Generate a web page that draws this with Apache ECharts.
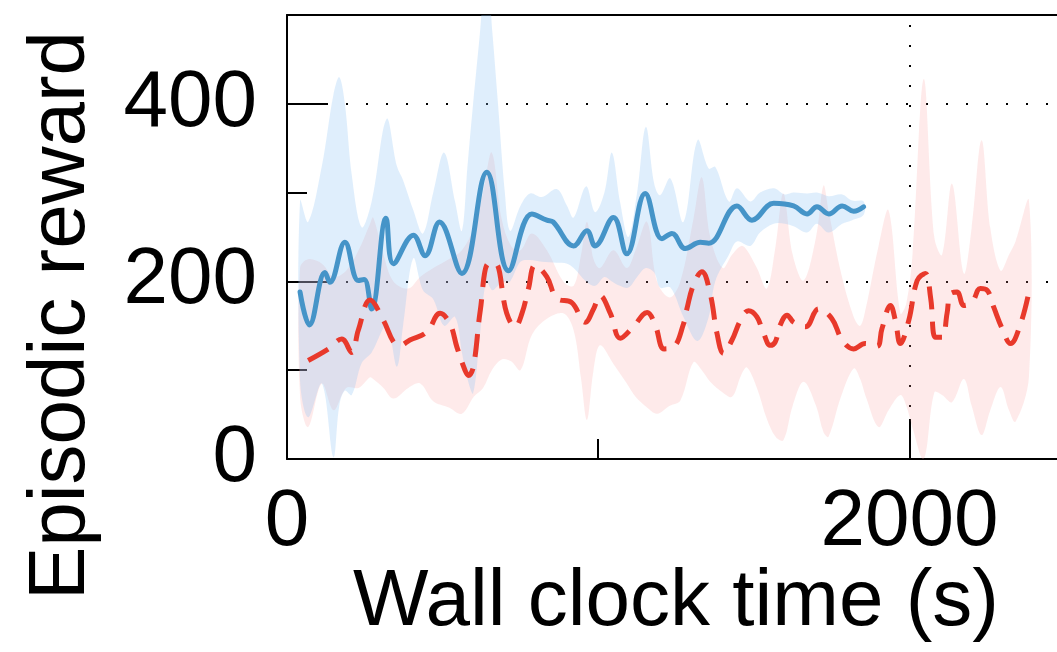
<!DOCTYPE html>
<html>
<head>
<meta charset="utf-8">
<script src="https://cdn.jsdelivr.net/npm/echarts@6/dist/echarts.min.js"></script>
<style>
html, body { margin: 0; padding: 0; background: #fff; }
#chart { width: 1057px; height: 652px; }
</style>
</head>
<body>
<div id="chart"></div>
<script>
// Solid blue run: mean reward over wall clock time
const blueTime   = [42, 72, 122, 138, 186, 229, 248, 272, 318, 342, 406, 444, 490, 562, 642, 712, 787, 835, 855, 921, 964, 990, 1049, 1092, 1151, 1205, 1237, 1280, 1328, 1355, 1446, 1494, 1564, 1628, 1671, 1703, 1741, 1784, 1821, 1853];
const blueReward = [188, 151, 210, 199, 244, 201, 202, 169, 271, 220, 252, 229, 267, 209, 323, 212, 276, 269, 267, 240, 257, 240, 272, 231, 299, 248, 254, 237, 244, 243, 285, 269, 288, 285, 276, 284, 276, 285, 279, 284];

// Spread of the blue run
const blueBandTime = [42, 68, 112, 149, 168, 186, 208, 240, 272, 320, 353, 373, 406, 437, 470, 505, 540, 562, 580, 598, 620, 640, 660, 678, 700, 717, 750, 781, 819, 867, 900, 921, 961, 990, 1020, 1044, 1070, 1097, 1125, 1153, 1180, 1199, 1232, 1274, 1319, 1355, 1376, 1420, 1446, 1489, 1520, 1564, 1600, 1628, 1671, 1703, 1740, 1784, 1816, 1853];
const blueBandLow  = [88, 47, 85, 2, 60, 77, 72, 108, 120, 150, 104, 150, 226, 190, 180, 150, 160, 120, 90, 74, 140, 200, 190, 195, 200, 200, 222, 224, 222, 221, 220, 215, 200, 195, 205, 200, 195, 193, 205, 215, 210, 193, 193, 160, 133, 160, 200, 230, 245, 240, 255, 265, 265, 262, 255, 265, 255, 265, 269, 275];
const blueBandHigh = [291, 267, 330, 410, 430, 400, 320, 261, 290, 383, 330, 314, 280, 254, 300, 345, 290, 257, 330, 400, 480, 560, 480, 400, 300, 257, 285, 299, 295, 304, 285, 272, 307, 278, 300, 345, 290, 250, 300, 374, 310, 297, 316, 267, 359, 327, 329, 290, 305, 290, 300, 305, 298, 300, 299, 300, 296, 298, 291, 290];

// Dashed red run: mean reward over wall clock time
const redTime   = [68, 133, 176, 208, 229, 267, 310, 342, 363, 395, 449, 492, 524, 546, 572, 583, 599, 621, 648, 669, 706, 733, 755, 776, 797, 835, 867, 915, 958, 985, 1006, 1039, 1071, 1113, 1157, 1183, 1212, 1242, 1274, 1285, 1306, 1333, 1360, 1382, 1403, 1430, 1457, 1483, 1510, 1532, 1553, 1569, 1585, 1607, 1628, 1666, 1708, 1751, 1784, 1821, 1858, 1896, 1912, 1939, 1955, 1971, 1998, 2025, 2051, 2068, 2084, 2105, 2121, 2132, 2153, 2175, 2202, 2228, 2250, 2271, 2298, 2325, 2357, 2384];
const redReward = [111, 124, 135, 120, 145, 179, 156, 132, 128, 134, 143, 164, 152, 126, 100, 94, 104, 167, 220, 220, 164, 149, 164, 192, 218, 205, 181, 176, 154, 169, 184, 164, 136, 149, 165, 151, 124, 126, 152, 169, 196, 211, 186, 141, 119, 134, 156, 167, 160, 141, 128, 132, 151, 162, 154, 149, 169, 158, 134, 124, 130, 127, 147, 173, 156, 130, 156, 201, 209, 182, 137, 137, 164, 186, 188, 173, 177, 192, 190, 171, 147, 130, 152, 188];

// Spread of the red run
const redBandTime = [42, 68, 112, 150, 190, 230, 267, 277, 310, 342, 390, 428, 470, 520, 562, 600, 630, 658, 690, 720, 750, 787, 835, 888, 921, 945, 964, 985, 1006, 1049, 1092, 1120, 1157, 1189, 1230, 1264, 1306, 1333, 1360, 1400, 1430, 1460, 1478, 1510, 1542, 1570, 1595, 1625, 1660, 1700, 1724, 1740, 1780, 1821, 1842, 1860, 1901, 1933, 1971, 1990, 2010, 2046, 2080, 2105, 2137, 2175, 2200, 2232, 2260, 2293, 2320, 2341, 2384];
const redBandLow  = [70, 36, 85, 55, 80, 80, 92, 90, 80, 68, 80, 85, 65, 58, 51, 70, 80, 100, 112, 110, 100, 140, 158, 164, 145, 90, 44, 100, 128, 107, 85, 70, 58, 51, 60, 66, 109, 100, 87, 75, 70, 95, 103, 80, 45, 25, 21, 60, 87, 60, 30, 25, 70, 102, 90, 70, 36, 55, 72, 60, 35, 0, 75, 72, 64, 90, 60, 27, 55, 81, 55, 42, 92];
const redBandHigh = [215, 225, 220, 205, 212, 235, 265, 272, 230, 200, 192, 205, 215, 225, 235, 260, 300, 345, 270, 240, 235, 254, 235, 200, 195, 230, 267, 225, 215, 235, 215, 235, 267, 200, 182, 200, 270, 317, 250, 215, 230, 240, 235, 215, 192, 240, 299, 230, 201, 250, 308, 280, 210, 160, 150, 170, 240, 280, 164, 175, 230, 428, 250, 230, 310, 209, 260, 359, 260, 212, 230, 245, 291];

// Axis tick labels
const xTickLabels = [0, 2000];
const yTickLabels = [0, 200, 400];

const FONT = 'Liberation Sans, Arial, Helvetica, sans-serif';
const BLACK = '#000';

function pairs(xs, ys) {
  return xs.map((x, i) => [x, ys[i]]);
}

// Shaded band: one smoothed polygon running along the high values and back along the low values
function bandSeries(key, times, low, high, fill) {
  return {
    name: key, type: 'custom', silent: true, clip: true, z: 1,
    data: times.map((t, i) => [t, low[i], high[i]]),
    encode: { x: 0, y: [1, 2] },
    renderItem: (params, api) => {
      if (params.dataIndex !== 0) return null;
      const pts = [];
      for (let i = 0; i < times.length; i++) pts.push(api.coord([times[i], high[i]]));
      for (let i = times.length - 1; i >= 0; i--) pts.push(api.coord([times[i], low[i]]));
      return {
        type: 'polygon',
        shape: { points: pts, smooth: 0.35 },
        style: { fill: fill, stroke: null }
      };
    }
  };
}

const chart = echarts.init(document.getElementById('chart'), null, { renderer: 'canvas' });

const tickStyle = { color: BLACK, width: 2 };
const dotted = (offset) => ({ color: BLACK, width: 2, type: [2, 18], dashOffset: offset, cap: 'butt' });

chart.setOption({
  animation: false,
  backgroundColor: '#fff',
  grid: { left: 287, top: 15, width: 778, height: 444, outerBoundsMode: 'none', containLabel: false },
  xAxis: [
    {
      type: 'value', position: 'bottom', min: 0, max: 2500, interval: 1000,
      axisLine: { show: true, onZero: false, lineStyle: tickStyle },
      axisTick: { show: true, inside: true, length: 20, lineStyle: tickStyle },
      axisLabel: {
        show: true, margin: 24, color: BLACK, fontSize: 80, fontFamily: FONT,
        showMaxLabel: false,
        formatter: v => (xTickLabels.includes(v) ? String(v) : '')
      },
      splitLine: { show: false },
      name: 'Wall clock time (s)', nameLocation: 'middle', nameGap: 104, nameMoveOverlap: false,
      nameTextStyle: { color: BLACK, fontSize: 80, fontFamily: FONT }
    },
    {
      type: 'value', position: 'bottom', min: 0, max: 2500, interval: 2000,
      axisLine: { show: false },
      axisTick: { show: true, inside: true, length: 40, lineStyle: tickStyle },
      axisLabel: { show: false },
      splitLine: { show: true, lineStyle: dotted(10) }
    },
    {
      type: 'value', position: 'top', min: 0, max: 2500,
      axisLine: { show: true, onZero: false, lineStyle: tickStyle },
      axisTick: { show: false }, axisLabel: { show: false }, splitLine: { show: false }
    }
  ],
  yAxis: [
    {
      type: 'value', position: 'left', min: 0, max: 500, interval: 100,
      axisLine: { show: true, onZero: false, lineStyle: tickStyle },
      axisTick: { show: true, inside: true, length: 20, lineStyle: tickStyle },
      axisLabel: {
        show: true, margin: 30, color: BLACK, fontSize: 80, fontFamily: FONT,
        showMaxLabel: false,
        formatter: v => (yTickLabels.includes(v) ? String(v) : '')
      },
      splitLine: { show: false },
      name: 'Episodic reward', nameLocation: 'middle', nameGap: 185, nameMoveOverlap: false,
      nameTextStyle: { color: BLACK, fontSize: 80, fontFamily: FONT, padding: [0, 157, 0, 0] }
    },
    {
      type: 'value', position: 'left', min: 0, max: 500, interval: 200,
      axisLine: { show: false },
      axisTick: { show: true, inside: true, length: 40, lineStyle: tickStyle },
      axisLabel: { show: false },
      splitLine: { show: true, lineStyle: dotted(1) }
    }
  ],
  series: [
    bandSeries('red band', redBandTime, redBandLow, redBandHigh, 'rgba(248, 150, 150, 0.2)'),
    bandSeries('blue band', blueBandTime, blueBandLow, blueBandHigh, 'rgba(140, 195, 245, 0.28)'),
    {
      name: 'Series A', type: 'line', data: pairs(blueTime, blueReward),
      symbol: 'none', smooth: 0.4, z: 3,
      lineStyle: { color: '#4594c8', width: 5, cap: 'round', join: 'round' }
    },
    {
      name: 'Series B', type: 'line', data: pairs(redTime, redReward),
      symbol: 'none', smooth: 0.4, z: 4,
      lineStyle: { color: '#e8392b', width: 5, type: [23, 12], cap: 'butt', join: 'round' }
    }
  ]
});
</script>
</body>
</html>
